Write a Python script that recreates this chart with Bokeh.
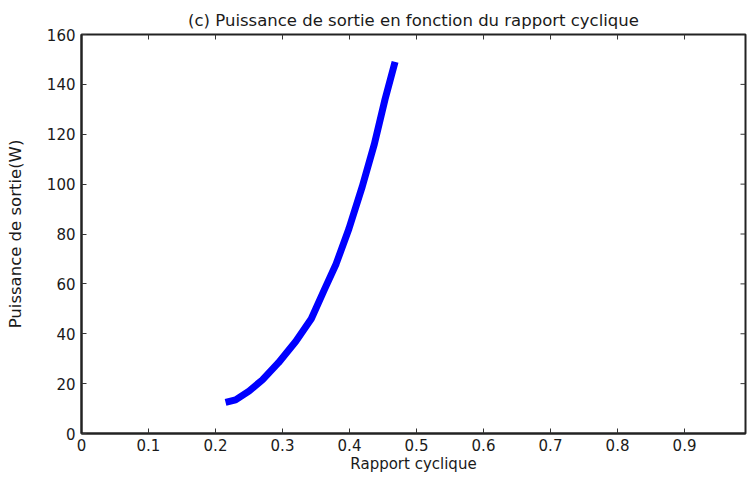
import math
from bokeh.plotting import figure
from bokeh.models import LinearAxis, FixedTicker, Range1d, Title
from bokeh.embed import file_html
from bokeh.resources import INLINE

# Data
duty = [0.215, 0.23, 0.25, 0.27, 0.294, 0.32, 0.343, 0.363, 0.38, 0.399, 0.419, 0.437, 0.453, 0.468]
power = [12.5, 13.5, 17.0, 21.5, 28.4, 37.0, 46.0, 58.0, 68.0, 82.0, 99.0, 116.0, 134.0, 149.0]

x_ticks = [0, 0.1, 0.2, 0.3, 0.4, 0.5, 0.6, 0.7, 0.8, 0.9]
y_ticks = [0, 20, 40, 60, 80, 100, 120, 140, 160]
x_min, x_max = 0, 0.991
y_min, y_max = 0, 160

title_text = "(c) Puissance de sortie en fonction du rapport cyclique"
x_label = "Rapport cyclique"
y_label = "Puissance de sortie(W)"

FONT = "DejaVu Sans"
TXT = "#1a1a1a"
AX = "#222222"

p = figure(width=747, height=476, output_backend="svg", toolbar_location=None,
           x_range=Range1d(x_min, x_max), y_range=Range1d(y_min, y_max),
           x_axis_location=None, y_axis_location=None,
           min_border_left=81, min_border_right=2, min_border_top=34, min_border_bottom=43)
p.grid.visible = False
p.outline_line_color = AX
p.outline_line_width = 2
p.background_fill_color = "white"
p.border_fill_color = "white"

p.title = Title(text=title_text, align="center", text_font=FONT, text_font_size="16.5px",
                text_font_style="normal", text_color=TXT, offset=0)
p.title.standoff = 10

def mk_axis(ticks, label_text):
    ax = LinearAxis(ticker=FixedTicker(ticks=ticks))
    ax.major_tick_in = 5
    ax.major_tick_out = 0
    ax.minor_tick_in = 0
    ax.minor_tick_out = 0
    ax.axis_line_color = AX
    ax.axis_line_width = 2
    ax.major_tick_line_color = "#333333"
    ax.major_tick_line_width = 1
    ax.major_label_text_font = FONT
    ax.major_label_text_font_size = "15px"
    ax.major_label_text_color = TXT
    ax.axis_label = label_text
    ax.axis_label_text_font = FONT
    ax.axis_label_text_font_style = "normal"
    ax.axis_label_text_color = TXT
    ax.axis_label_text_font_size = "15px"
    return ax

xb = mk_axis(x_ticks, x_label)
xb.major_label_standoff = 5
xb.axis_label_standoff = 1
p.add_layout(xb, "below")

yl = mk_axis(y_ticks, y_label)
yl.major_label_standoff = 6
yl.axis_label_standoff = 19
yl.axis_label_text_font_size = "16.5px"
p.add_layout(yl, "left")

# inward ticks on the top and right edges of the box (MATLAB style)
p.scatter(x=x_ticks, y=[y_max] * len(x_ticks), marker="dash", angle=math.pi / 2,
          size=10, line_color="#333333", line_width=1)
p.scatter(x=[x_max] * len(y_ticks), y=y_ticks, marker="dash",
          size=10, line_color="#333333", line_width=1)

p.line(duty, power, line_color="#0000ff", line_width=7)

open("out.html", "w").write(file_html(p, INLINE))
